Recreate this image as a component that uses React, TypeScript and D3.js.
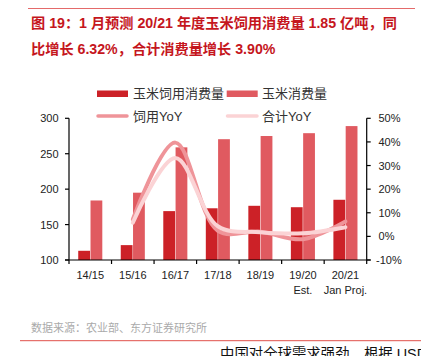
import React from "react";
import * as d3 from "d3";

const categories = ["14/15", "15/16", "16/17", "17/18", "18/19", "19/20", "20/21"];
const categorySub = ["", "", "", "", "", "Est.", "Jan Proj."];
const feedUse = [113, 121, 169, 173, 176.5, 174.5, 185];
const totalUse = [184, 195, 259, 270.5, 275, 279, 289];
const feedYoY = [null, 7.2, 39.7, 2.4, 2.0, -1.2, 6.32];
const totalYoY = [null, 5.8, 33.2, 4.3, 1.8, 1.3, 3.9];
const leftTicks = [100, 150, 200, 250, 300];
const rightTicks = [-10, 0, 10, 20, 30, 40, 50];

const FONT = "'Liberation Sans', Arial, 'Noto Sans CJK SC', sans-serif";
const CJK = "'Liberation Sans', 'Noto Sans CJK SC', sans-serif";
const C_FEED = "#cc2127";
const C_TOTAL = "#e05a60";
const C_FEEDYOY = "#ef9499";
const C_TOTALYOY = "#fbd3d5";

export default function App() {
  const x0 = 69, x1 = 366.7, yTop = 118.3, yBot = 260;
  const x = d3.scaleBand<string>().domain(categories).range([x0, x1]).paddingInner(0.434).paddingOuter(0.217);
  const xs = d3.scaleBand<string>().domain(["feed", "total"]).range([0, x.bandwidth()]).paddingInner(0.04);
  const yL = d3.scaleLinear().domain([100, 300]).range([yBot, yTop]);
  const yR = d3.scaleLinear().domain([-10, 50]).range([yBot, yTop]);
  const step = x.step();
  const cx = (c: string) => (x(c) as number) + x.bandwidth() / 2;

  const line = d3
    .line<[string, number | null]>()
    .defined((d) => d[1] !== null)
    .x((d) => cx(d[0]))
    .y((d) => yR(d[1] as number))
    .curve(d3.curveCatmullRom.alpha(0.5));

  const feedPath = line(categories.map((c, i) => [c, feedYoY[i]]) as any) || "";
  const totalPath = line(categories.map((c, i) => [c, totalYoY[i]]) as any) || "";

  return (
    <svg width={421} height={356} style={{ position: "absolute", left: 0, top: 0, background: "#fff" }}>
      <line x1={28} x2={415} y1={8.5} y2={8.5} stroke="#e46a6a" strokeWidth={1} />
      <text x={31} y={28} fontFamily={CJK} fontSize={14.2} fontWeight="bold" fill="#c5161d">
        图 19：1 月预测 20/21 年度玉米饲用消费量 1.85 亿吨，同
      </text>
      <text x={31} y={54} fontFamily={CJK} fontSize={14.2} fontWeight="bold" fill="#c5161d">
        比增长 6.32%，合计消费量增长 3.90%
      </text>

      {/* legend */}
      <rect x={97} y={90.5} width={31} height={6.5} fill={C_FEED} />
      <text x={133} y={98} fontFamily={CJK} fontSize={13} fill="#333">玉米饲用消费量</text>
      <rect x={226.7} y={90.5} width={31} height={6.5} fill={C_TOTAL} />
      <text x={262} y={98} fontFamily={CJK} fontSize={13} fill="#333">玉米消费量</text>
      <line x1={98} x2={127} y1={116} y2={116} stroke={C_FEEDYOY} strokeWidth={3.5} strokeLinecap="round" />
      <text x={133} y={121} fontFamily={CJK} fontSize={13} fill="#333">饲用YoY</text>
      <line x1={227.5} x2={257} y1={116} y2={116} stroke={C_TOTALYOY} strokeWidth={3.5} strokeLinecap="round" />
      <text x={262} y={121} fontFamily={CJK} fontSize={13} fill="#333">合计YoY</text>

      {/* bars */}
      {categories.map((c, i) => (
        <g key={c}>
          <rect x={(x(c) as number) + (xs("feed") as number)} y={yL(feedUse[i])} width={xs.bandwidth()} height={yBot - yL(feedUse[i])} fill={C_FEED} />
          <rect x={(x(c) as number) + (xs("total") as number)} y={yL(totalUse[i])} width={xs.bandwidth()} height={yBot - yL(totalUse[i])} fill={C_TOTAL} />
        </g>
      ))}

      {/* lines */}
      <path d={feedPath} fill="none" stroke={C_FEEDYOY} strokeWidth={4} strokeLinecap="round" />
      <path d={totalPath} fill="none" stroke={C_TOTALYOY} strokeWidth={4} strokeLinecap="round" />

      {/* left axis */}
      <line x1={x0} x2={x0} y1={yTop} y2={yBot} stroke="#000" strokeWidth={1.2} />
      {leftTicks.map((t) => (
        <g key={t}>
          <line x1={x0 - 4} x2={x0} y1={yL(t)} y2={yL(t)} stroke="#000" strokeWidth={1.2} />
          <text x={58.5} y={yL(t) + 4} textAnchor="end" fontFamily={FONT} fontSize={11} fill="#222">{t}</text>
        </g>
      ))}

      {/* right axis */}
      <line x1={x1} x2={x1} y1={yTop} y2={yBot} stroke="#000" strokeWidth={1.2} />
      {rightTicks.map((t) => (
        <g key={t}>
          <line x1={x1} x2={x1 + 4} y1={yR(t)} y2={yR(t)} stroke="#000" strokeWidth={1.2} />
          <text x={t < 0 ? 376 : 378.5} y={yR(t) + 4} textAnchor="start" fontFamily={FONT} fontSize={11} fill="#222">{t}%</text>
        </g>
      ))}

      {/* x axis */}
      <line x1={x0 - 4} x2={x1 + 4} y1={yBot} y2={yBot} stroke="#000" strokeWidth={1.2} />
      {d3.range(categories.length + 1).map((i) => (
        <line key={i} x1={x0 + i * step} x2={x0 + i * step} y1={yBot} y2={yBot + 4} stroke="#000" strokeWidth={1.2} />
      ))}
      {categories.map((c, i) => (
        <g key={c}>
          <text x={cx(c)} y={279} textAnchor="middle" fontFamily={FONT} fontSize={11} fill="#222">{c}</text>
          {categorySub[i] && (
            <text x={cx(c)} y={294} textAnchor="middle" fontFamily={FONT} fontSize={11} fill="#222">{categorySub[i]}</text>
          )}
        </g>
      ))}

      <text x={31} y={332} fontFamily={CJK} fontSize={11} fill="#aaa">数据来源：农业部、东方证券研究所</text>
      <line x1={20} x2={421} y1={340.7} y2={340.7} stroke="#e0504a" strokeWidth={1} />
      <text x={220} y={359} fontFamily={CJK} fontSize={14.4} fill="#111">中国对全球需求强劲，根据 USD</text>
    </svg>
  );
}
